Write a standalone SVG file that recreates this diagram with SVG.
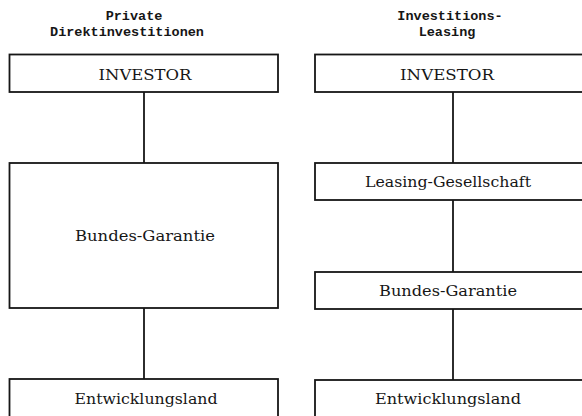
<svg xmlns="http://www.w3.org/2000/svg" width="582" height="416" viewBox="0 0 582 416">
<style>
.box{fill:none;stroke:#161616;stroke-width:1.8}
.con{stroke:#161616;stroke-width:1.8;fill:none}
.lbl{font-family:"DejaVu Serif","Liberation Serif",serif;font-size:15px;fill:#161616;text-anchor:middle}
.ttl{font-family:"Liberation Mono","DejaVu Sans Mono",monospace;font-size:13.5px;font-weight:bold;fill:#161616;text-anchor:middle}
</style>
<rect width="582" height="416" fill="#ffffff"/>
<g id="title-left">
<text class="ttl" x="134" y="20">Private</text>
<text class="ttl" x="127" y="36">Direktinvestitionen</text>
</g>
<g id="title-right">
<text class="ttl" x="450" y="20">Investitions-</text>
<text class="ttl" x="447" y="36">Leasing</text>
</g>
<g id="connectors">
<line class="con" x1="144" y1="92" x2="144" y2="163"/>
<line class="con" x1="144" y1="308" x2="144" y2="379"/>
<line class="con" x1="453" y1="92" x2="453" y2="163"/>
<line class="con" x1="453" y1="200" x2="453" y2="272"/>
<line class="con" x1="453" y1="309" x2="453" y2="380"/>
</g>
<g id="investor-left">
<rect class="box" x="9.5" y="54.5" width="268.5" height="37.5"/>
<text class="lbl" x="145" y="80" textLength="93" lengthAdjust="spacingAndGlyphs">INVESTOR</text>
</g>
<g id="garantie-left">
<rect class="box" x="9.5" y="163" width="268.5" height="145"/>
<text class="lbl" x="145" y="241" textLength="140" lengthAdjust="spacingAndGlyphs">Bundes-Garantie</text>
</g>
<g id="entwicklung-left">
<rect class="box" x="9.5" y="379" width="268.5" height="60"/>
<text class="lbl" x="146" y="404" textLength="143" lengthAdjust="spacingAndGlyphs">Entwicklungsland</text>
</g>
<g id="investor-right">
<rect class="box" x="315" y="54.5" width="275" height="37.5"/>
<text class="lbl" x="447" y="80" textLength="94" lengthAdjust="spacingAndGlyphs">INVESTOR</text>
</g>
<g id="leasing-right">
<rect class="box" x="315" y="163" width="275" height="37"/>
<text class="lbl" x="448" y="187" textLength="166" lengthAdjust="spacingAndGlyphs">Leasing-Gesellschaft</text>
</g>
<g id="garantie-right">
<rect class="box" x="315" y="272" width="275" height="37"/>
<text class="lbl" x="448" y="296" textLength="138" lengthAdjust="spacingAndGlyphs">Bundes-Garantie</text>
</g>
<g id="entwicklung-right">
<rect class="box" x="315" y="380" width="275" height="60"/>
<text class="lbl" x="448" y="404" textLength="146" lengthAdjust="spacingAndGlyphs">Entwicklungsland</text>
</g>
</svg>
